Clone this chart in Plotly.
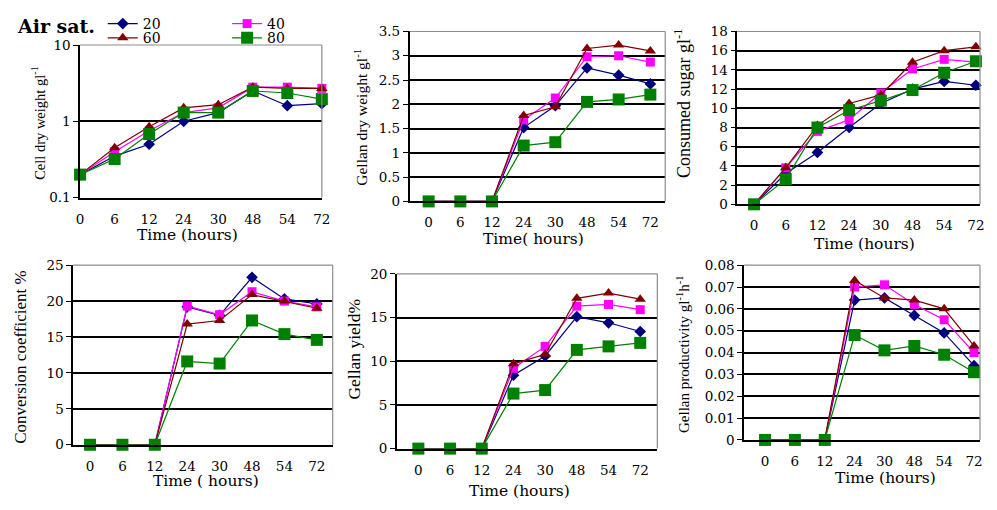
import plotly.graph_objects as go

# ---------------- data ----------------
times = ["0", "6", "12", "24", "30", "48", "54", "72"]
series_names = ["20", "40", "60", "80"]

cell_dry_weight = [
    [0.2, 0.35, 0.5, 1.0, 1.3, 2.5, 1.6, 1.7],
    [0.2, 0.40, 0.75, 1.3, 1.5, 2.8, 2.8, 2.7],
    [0.2, 0.45, 0.85, 1.5, 1.65, 2.8, 2.7, 2.7],
    [0.2, 0.32, 0.68, 1.3, 1.3, 2.5, 2.35, 1.95],
]
gellan_dry_weight = [
    [0, 0, 0, 1.52, 1.97, 2.75, 2.60, 2.42],
    [0, 0, 0, 1.68, 2.13, 2.98, 3.00, 2.87],
    [0, 0, 0, 1.77, 1.95, 3.15, 3.22, 3.10],
    [0, 0, 0, 1.15, 1.22, 2.05, 2.10, 2.20],
]
consumed_sugar = [
    [0, 3.2, 5.4, 8.0, 10.5, 12.0, 12.8, 12.4],
    [0, 3.8, 7.6, 8.8, 11.6, 14.1, 15.1, 14.8],
    [0, 3.8, 8.2, 10.5, 11.4, 14.8, 16.0, 16.4],
    [0, 2.6, 8.0, 9.8, 10.8, 11.9, 13.7, 14.9],
]
conversion_coeff = [
    [0, 0, 0, 19.2, 18.0, 23.3, 20.3, 19.6],
    [0, 0, 0, 19.3, 18.1, 21.3, 20.0, 19.2],
    [0, 0, 0, 16.8, 17.3, 20.9, 20.0, 19.0],
    [0, 0, 0, 11.6, 11.3, 17.3, 15.4, 14.6],
]
gellan_yield = [
    [0, 0, 0, 8.4, 10.6, 15.1, 14.4, 13.4],
    [0, 0, 0, 9.2, 11.7, 16.3, 16.5, 15.9],
    [0, 0, 0, 9.7, 10.8, 17.2, 17.8, 17.1],
    [0, 0, 0, 6.3, 6.7, 11.3, 11.7, 12.1],
]
gellan_productivity = [
    [0, 0, 0, 0.064, 0.065, 0.057, 0.049, 0.034],
    [0, 0, 0, 0.070, 0.071, 0.062, 0.055, 0.040],
    [0, 0, 0, 0.073, 0.065, 0.064, 0.060, 0.043],
    [0, 0, 0, 0.048, 0.041, 0.043, 0.039, 0.031],
]

y_titles = [
    "Cell dry weight gl<sup>-1</sup>",
    "Gellan dry weight gl<sup>-1</sup>",
    "Consumed sugar gl<sup>-1</sup>",
    "Conversion coefficient %",
    "Gellan yield%",
    "Gellan productivity gl<sup>-1</sup>h<sup>-1</sup>",
]
x_titles = ["Time (hours)", "Time( hours)", "Time (hours)",
            "Time ( hours)", "Time (hours)", "Time (hours)"]

# ---------------- style / layout ----------------
PAGE_W, PAGE_H = 997, 510
OFF = 8                       # default body margin of the html page
W, H = PAGE_W - 2 * OFF, PAGE_H - 2 * OFF
colors = ["#00007F", "#FF00FF", "#800000", "#008000"]
symbols = ["diamond", "square", "triangle-up", "square"]
msizes = [9, 9, 10, 12]
SERIF = "Liberation Serif"
WIDE = "DejaVu Serif"
TICK = 13.5
XT = 15.5


def px(x):
    return min(max((x - OFF) / W, 0), 1)


def py(y):
    return min(max(1 - (y - OFF) / H, 0), 1)


panels = [
    dict(data=cell_dry_weight, xd=(77, 322), yd=(37, 195), xr=[0, 7], yr=[-1, 1], log=True,
         yt=(35, 118, 14.5), xt=(186, 234)),
    dict(data=gellan_dry_weight, xd=(411, 670), yd=(23, 199), xr=[-0.6, 7.47], yr=[0, 3.5], dt=0.5,
         yt=(362, 112, 15.5), xt=(537, 238)),
    dict(data=consumed_sugar, xd=(743, 989), yd=(23, 202), xr=[-0.53, 7.13], yr=[0, 18], dt=2,
         yt=(688, 97, 18), xt=(872, 243)),
    dict(data=conversion_coeff, xd=(70, 333), yd=(265, 451), xr=[-0.52, 7.49], yr=[0, 25], dt=5,
         yt=(17, 360, 17), xt=(205, 489)),
    dict(data=gellan_yield, xd=(398, 662), yd=(274, 455), xr=[-0.68, 7.54], yr=[0, 20], dt=5,
         yt=(355, 352, 17.5), xt=(522, 499)),
    dict(data=gellan_productivity, xd=(750, 989), yd=(265, 446), xr=[-0.7, 7.2], yr=[0, 0.08], dt=0.01,
         yt=(688, 357, 15), xt=(893, 485)),
]

fig = go.Figure()
layout = dict(
    width=W, height=H, margin=dict(l=0, r=0, t=0, b=0),
    paper_bgcolor="white", plot_bgcolor="white",
    font=dict(family=WIDE, size=14, color="black"),
)
annotations = []
shapes = []

for i, p in enumerate(panels):
    n = "" if i == 0 else str(i + 1)
    xa, ya = "x" + n, "y" + n
    for s in range(4):
        fig.add_trace(go.Scatter(
            x=times, y=p["data"][s], name=series_names[s],
            mode="lines+markers", xaxis=xa, yaxis=ya,
            line=dict(color=colors[s], width=1.2),
            marker=dict(symbol=symbols[s], size=msizes[s], color=colors[s]),
            showlegend=(i == 0), legend=("legend" if s == 0 else "legend" + str(s + 1)),
            cliponaxis=False, hoverinfo="skip",
        ))
    layout["xaxis" + n] = dict(
        domain=[px(p["xd"][0]), px(p["xd"][1])], anchor=ya, type="category",
        range=p["xr"], showgrid=False, showline=True, linecolor="black", linewidth=1.5,
        ticks="", ticklabelstandoff=8, tickfont=dict(family=WIDE, size=TICK),
        zeroline=False, fixedrange=True,
    )
    yax = dict(
        domain=[py(p["yd"][1]), py(p["yd"][0])], anchor=xa,
        range=p["yr"], showgrid=True, gridcolor="black", gridwidth=1.5,
        showline=True, linecolor="black", linewidth=1.5,
        ticks="outside", ticklen=5, tickcolor="black", tickwidth=1.2,
        tickfont=dict(family=WIDE, size=TICK), zeroline=False, fixedrange=True,
    )
    if p.get("log"):
        yax.update(type="log", tickvals=[0.1, 1, 10], ticktext=["0.1", "1", "10"])
    else:
        yax.update(dtick=p["dt"], tick0=0)
    layout["yaxis" + n] = yax
    # gray top/right box edges
    shapes.append(dict(type="line", xref=xa + " domain", yref=ya + " domain",
                       x0=0, x1=1, y0=1, y1=1, line=dict(color="#8c8c8c", width=1.2)))
    shapes.append(dict(type="line", xref=xa + " domain", yref=ya + " domain",
                       x0=1, x1=1, y0=0, y1=1, line=dict(color="#8c8c8c", width=1.2)))
    annotations.append(dict(text=y_titles[i], x=px(p["yt"][0]), y=py(p["yt"][1]),
                            xref="paper", yref="paper", showarrow=False, textangle=-90,
                            font=dict(family=SERIF, size=p["yt"][2], color="black"),
                            xanchor="center", yanchor="middle"))
    annotations.append(dict(text=x_titles[i], x=px(p["xt"][0]), y=py(p["xt"][1]),
                            xref="paper", yref="paper", showarrow=False,
                            font=dict(family=WIDE, size=XT, color="black"),
                            xanchor="center", yanchor="middle"))

annotations.append(dict(text="<b>Air sat.</b>", x=px(11), y=py(17), xref="paper", yref="paper",
                        showarrow=False, xanchor="left", yanchor="middle",
                        font=dict(family=WIDE, size=19, color="black")))

leg_pos = [(100, 15), (226, 15), (100, 30), (226, 30)]
for s, (lx, ly) in enumerate(leg_pos):
    key = "legend" if s == 0 else "legend" + str(s + 1)
    layout[key] = dict(x=px(lx), y=py(ly), xanchor="left", yanchor="middle",
                       bgcolor="rgba(0,0,0,0)", borderwidth=0,
                       font=dict(family=WIDE, size=14, color="black"),
                       orientation="h", itemwidth=30)

layout["annotations"] = annotations
layout["shapes"] = shapes
fig.update_layout(**layout)
fig.write_html("out.html")
